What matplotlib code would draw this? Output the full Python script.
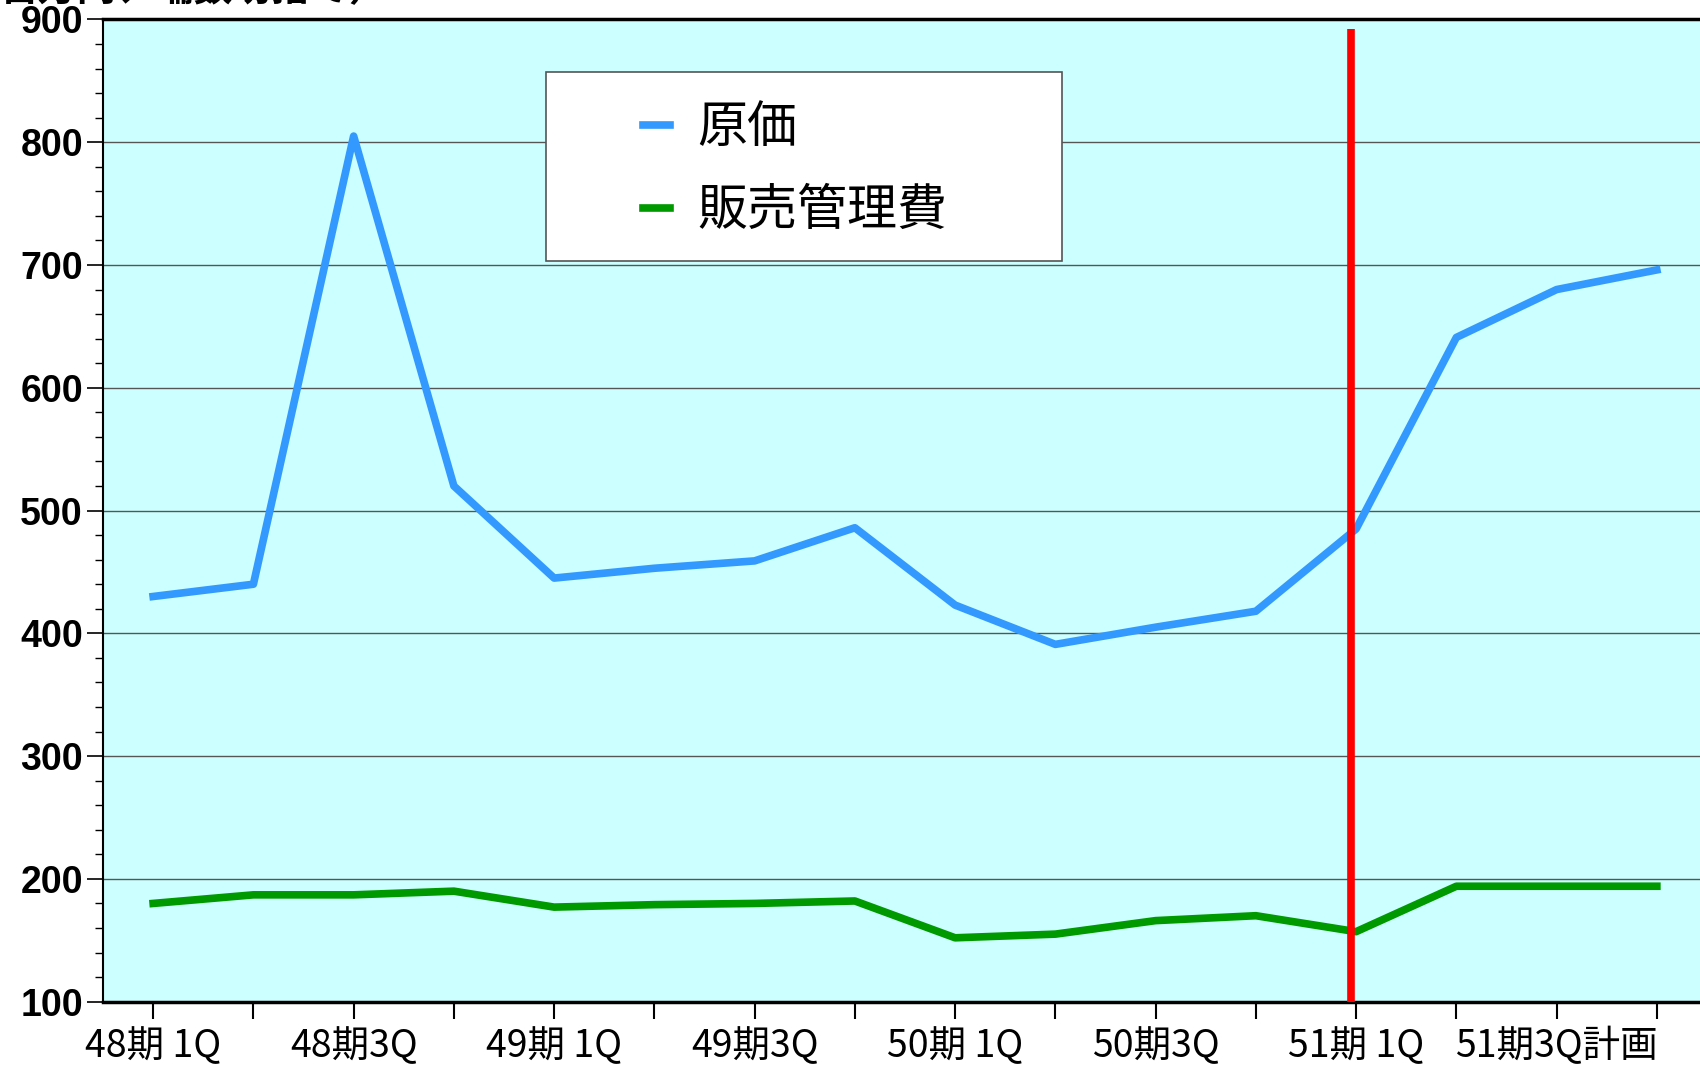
import numpy as np
import matplotlib
matplotlib.use("Agg")
from matplotlib import pyplot as plt
from matplotlib.patches import Rectangle
from matplotlib.ticker import MultipleLocator

# quarters (labels shown on every other one)
quarters = ['48期1Q', '48期2Q', '48期3Q', '48期4Q',
            '49期1Q', '49期2Q', '49期3Q', '49期4Q',
            '50期1Q', '50期2Q', '50期3Q', '50期4Q',
            '51期1Q', '51期2Q', '51期3Q計画', '51期4Q計画']
genka = [430, 440, 805, 520, 445, 453, 459, 486,
         423, 391, 405, 418, 485, 641, 680, 696]
hankanhi = [180, 187, 187, 190, 177, 179, 180, 182,
            152, 155, 166, 170, 157, 194, 194, 194]

plt.rcParams['font.family'] = ['Noto Sans CJK JP', 'DejaVu Sans']

fig = plt.figure(figsize=(17, 10.69), dpi=100)
ax = fig.add_axes([0.0606, 0.063, 0.9435, 0.9188])
ax.set_facecolor('#CCFFFF')

x = np.arange(len(quarters))
ax.plot(x, genka, color='#3399FF', linewidth=5.5, label='原価', zorder=3)
ax.plot(x, hankanhi, color='#009900', linewidth=5.5, label='販売管理費', zorder=3)

# red divider at current quarter
ax.vlines(11.95, 100, 892, color='#FF0000', linewidth=5.5, zorder=6)

ax.set_xlim(-0.5, len(quarters) - 0.5)
ax.set_ylim(100, 900)
ax.yaxis.set_major_locator(MultipleLocator(100))
ax.yaxis.set_minor_locator(MultipleLocator(20))
ax.grid(axis='y', which='major', color='#555555', linewidth=1.0, zorder=1)

ax.set_xticks(x)
ax.set_xticklabels([q.replace('1Q', ' 1Q') if i % 2 == 0 else ''
                    for i, q in enumerate(quarters)], fontsize=27)
ax.tick_params(axis='x', direction='out', length=12, width=1.5, pad=6)
ax.tick_params(axis='y', which='major', direction='out', length=11.5, width=1.2,
               labelsize=27, pad=3)
ax.tick_params(axis='y', which='minor', direction='out', length=6, width=1.0)
for lab in ax.get_yticklabels():
    lab.set_family('Liberation Sans')
    lab.set_fontweight('bold')

for side in ['top', 'bottom']:
    ax.spines[side].set_linewidth(2.5)
ax.spines['left'].set_linewidth(1.5)
ax.spines['right'].set_visible(False)

# legend box
ax.add_patch(Rectangle((0.2764, 0.754), 0.3216, 0.193, transform=ax.transAxes,
                       facecolor='white', edgecolor='#555555', linewidth=1.2,
                       zorder=5))
leg = ax.legend(loc='center left', bbox_to_anchor=(0.3365, 0.847), fontsize=36,
                frameon=False, handlelength=0.55, handletextpad=0.55,
                borderpad=0, labelspacing=0.62, borderaxespad=0)
leg.set_zorder(5.5)

# unit note, mostly cut off at the top edge
fig.text(0.0, 1 - 9 / 1069, '百万円、端数切捨て）', fontsize=28, fontweight='bold',
         va='bottom', ha='left')

fig.savefig('out.png', dpi=100)
